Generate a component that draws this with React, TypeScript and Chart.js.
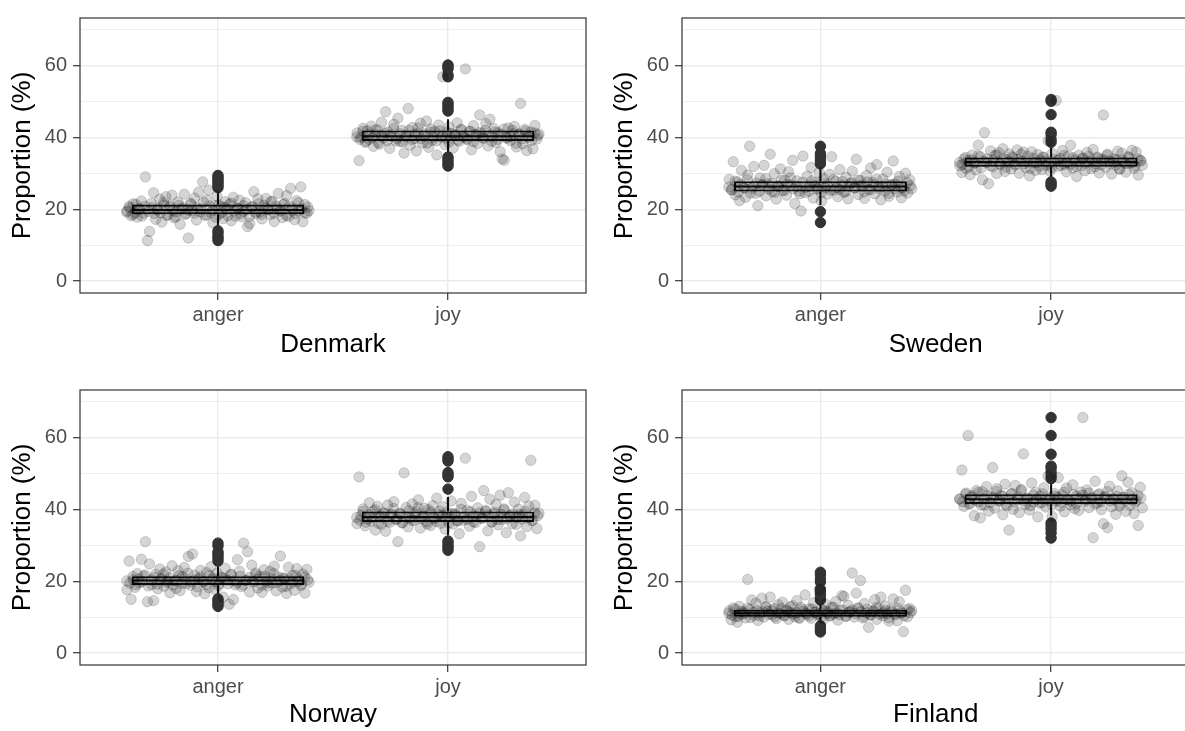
import React, { useEffect, useRef } from 'react';
import { Chart, registerables } from 'chart.js';

Chart.register(...registerables);

// ---------------- data ----------------
const countries = ['Denmark', 'Sweden', 'Norway', 'Finland'];
const emotions = ['anger', 'joy'];
const yMajorTicks = [0, 20, 40, 60];
const yMinorTicks = [10, 30, 50, 70];
const yAxisTitle = 'Proportion (%)';

// box statistics per country: [anger, joy]
const q1Values = [[18.6, 38.9], [24.9, 31.8], [18.9, 36.4], [10.1, 41.4]];
const medianValues = [[19.8, 40.3], [26.3, 33.1], [20.2, 37.8], [11.1, 42.8]];
const q3Values = [[21.3, 41.9], [27.8, 34.4], [21.4, 39.4], [12.1, 44.2]];
const whiskerLow = [[15.3, 35.8], [21.2, 28.8], [16.5, 32.8], [8.0, 38.3]];
const whiskerHigh = [[24.8, 45.0], [31.5, 37.4], [24.2, 43.4], [14.0, 47.4]];

// outliers per country: [anger, joy]
const outliersDenmark = [
  [11.3, 11.9, 12.5, 13.4, 14.0, 26.0, 26.6, 27.2, 27.8, 28.3, 28.9, 29.4],
  [32.0, 32.6, 33.2, 33.9, 34.5, 47.3, 47.9, 48.5, 49.1, 49.7, 56.8, 57.4, 59.0, 59.6, 60.1],
];
const outliersSweden = [
  [16.3, 19.3, 32.6, 33.3, 34.0, 34.8, 35.5, 37.5],
  [26.4, 27.0, 27.6, 38.6, 39.4, 40.8, 41.4, 46.3, 50.0, 50.5],
];
const outliersNorway = [
  [13.0, 13.5, 14.0, 14.6, 15.1, 25.6, 26.3, 27.0, 27.6, 28.2, 29.8, 30.6],
  [28.6, 29.2, 29.8, 30.5, 31.2, 45.6, 49.0, 49.6, 50.2, 53.4, 54.0, 54.6],
];
const outliersFinland = [
  [5.9, 6.4, 7.0, 7.6, 14.8, 15.5, 16.3, 17.0, 17.8, 19.8, 20.6, 21.8, 22.5],
  [32.0, 33.4, 34.5, 35.4, 36.2, 48.5, 49.3, 50.3, 51.4, 52.0, 55.3, 60.5, 65.5],
];

// individual observations (read left to right across each jitter band)
const denmarkAnger = [
  19.5, 20.8, 18.2, 21.5, 19.0, 17.8, 20.2, 22.3, 18.9, 29.0,
  11.3, 13.8, 20.5, 24.6, 17.2, 19.8, 22.8, 16.4, 21.2, 23.5,
  18.4, 20.9, 23.9, 17.6, 19.3, 22.0, 15.8, 20.4, 24.2, 18.8,
  12.0, 21.7, 19.6, 23.1, 17.0, 24.8, 20.1, 27.6, 18.3, 22.6,
  25.3, 19.1, 16.2, 21.0, 23.6, 18.6, 20.7, 17.4, 22.1, 19.9,
  21.4, 16.8, 23.3, 18.1, 20.3, 22.5, 17.9, 19.4, 21.8, 15.2,
  16.0, 20.6, 24.9, 18.7, 22.9, 19.2, 17.3, 21.1, 23.0, 20.0,
  18.5, 22.2, 16.6, 20.8, 24.4, 19.7, 17.7, 21.6, 23.8, 18.0,
  25.8, 20.3, 17.1, 22.4, 19.5, 26.2, 16.5, 21.3, 18.9, 19.6,
];
const denmarkJoy = [
  41.2, 33.5, 40.0, 42.5, 38.6, 41.8, 39.4, 43.1, 37.5, 40.7,
  42.0, 38.1, 44.2, 39.8, 47.1, 41.5, 36.9, 40.3, 43.6, 39.0,
  45.3, 38.8, 41.9, 35.6, 40.5, 48.0, 37.8, 42.7, 39.6, 36.2,
  41.0, 43.9, 38.4, 40.9, 44.5, 37.2, 42.3, 39.2, 41.6, 35.1,
  43.4, 40.1, 56.8, 38.0, 41.4, 42.9, 39.9, 37.0, 40.6, 44.0,
  38.9, 42.1, 40.4, 59.0, 39.3, 41.7, 36.5, 43.2, 40.8, 38.3,
  46.2, 41.1, 39.7, 43.8, 37.6, 45.0, 40.2, 42.4, 38.5, 41.3,
  36.0, 34.0, 33.6, 40.0, 42.6, 39.1, 41.9, 43.0, 37.3, 40.7,
  49.4, 38.2, 42.2, 36.3, 40.4, 41.5, 36.8, 43.3, 39.5, 40.9,
];
const swedenAnger = [
  28.3, 25.4, 33.2, 24.0, 27.6, 22.4, 30.8, 26.1, 23.3, 29.5,
  37.5, 25.8, 31.9, 24.4, 21.0, 28.7, 26.9, 32.2, 23.7, 27.1,
  35.3, 24.9, 29.9, 22.8, 26.5, 31.2, 25.2, 28.1, 23.9, 30.4,
  26.7, 33.6, 21.6, 27.9, 25.0, 19.5, 34.8, 24.6, 29.2, 26.3,
  31.6, 23.1, 27.4, 25.6, 30.1, 22.2, 28.5, 26.0, 24.2, 29.7,
  34.6, 25.3, 27.8, 23.5, 31.0, 26.6, 24.7, 28.9, 22.9, 27.2,
  30.6, 25.9, 33.9, 24.1, 28.0, 26.4, 23.0, 29.4, 25.5, 31.5,
  27.5, 24.3, 32.4, 26.2, 22.6, 28.4, 25.1, 30.3, 23.6, 26.8,
  33.4, 27.0, 24.8, 29.1, 23.2, 26.0, 30.0, 24.5, 28.2, 25.7,
];
const swedenJoy = [
  32.1, 30.2, 34.0, 31.4, 33.5, 29.6, 35.1, 32.8, 30.9, 37.8,
  34.6, 28.2, 41.3, 33.0, 27.1, 36.2, 31.8, 34.9, 29.9, 35.7,
  32.4, 36.8, 30.5, 33.8, 35.4, 31.2, 34.3, 32.6, 36.5, 30.0,
  33.3, 35.9, 31.6, 34.7, 29.3, 36.0, 32.9, 30.8, 35.2, 33.7,
  31.0, 34.4, 32.2, 39.0, 30.6, 35.5, 33.1, 50.2, 31.9, 34.1,
  36.3, 32.5, 30.4, 34.8, 37.8, 31.5, 33.6, 29.1, 35.0, 32.0,
  34.2, 30.7, 35.8, 33.2, 31.3, 36.6, 32.7, 34.5, 30.1, 33.9,
  46.2, 31.7, 35.3, 33.4, 29.8, 34.0, 32.3, 36.1, 31.1, 35.6,
  33.0, 30.3, 34.6, 32.8, 36.4, 31.4, 35.9, 29.5, 33.6, 32.2,
];
const norwayAnger = [
  17.6, 25.6, 15.0, 20.4, 18.3, 22.1, 19.6, 26.1, 21.5, 31.0,
  14.3, 24.8, 19.1, 14.6, 21.9, 17.9, 23.4, 20.7, 18.6, 22.6,
  19.9, 16.8, 24.3, 20.1, 18.0, 22.9, 17.4, 21.3, 23.8, 19.4,
  26.9, 18.9, 27.6, 21.7, 17.1, 20.6, 23.0, 19.7, 16.5, 22.4,
  18.2, 24.0, 20.9, 17.7, 22.2, 19.3, 21.1, 15.6, 23.6, 20.3,
  13.6, 21.8, 14.9, 19.0, 26.0, 22.8, 18.5, 30.6, 20.2, 28.2,
  17.0, 24.5, 19.8, 22.3, 18.1, 21.4, 16.9, 23.2, 20.0, 18.7,
  22.7, 19.5, 24.2, 17.3, 21.2, 27.0, 18.4, 20.8, 16.6, 23.9,
  19.2, 21.6, 17.5, 23.5, 20.5, 18.8, 22.0, 16.7, 23.3, 19.7,
];
const norwayJoy = [
  36.0, 49.0, 38.2, 40.1, 35.4, 37.3, 41.8, 36.7, 39.5, 34.2,
  40.8, 37.9, 35.8, 39.0, 33.9, 41.2, 36.4, 38.6, 42.1, 37.1,
  31.0, 38.9, 36.2, 50.1, 40.5, 35.1, 37.6, 41.5, 36.9, 39.3,
  42.6, 34.8, 38.0, 40.3, 36.5, 39.9, 35.5, 41.0, 37.4, 43.1,
  38.4, 36.1, 40.7, 34.5, 39.2, 37.8, 42.3, 35.9, 38.8, 36.8,
  33.2, 41.6, 37.0, 54.2, 39.7, 35.3, 43.6, 38.1, 36.3, 40.4,
  29.6, 37.5, 45.2, 39.4, 34.0, 42.8, 36.6, 38.7, 41.4, 35.7,
  43.9, 37.2, 39.8, 33.5, 44.6, 38.3, 36.0, 42.0, 37.7, 40.0,
  32.6, 38.5, 43.3, 35.2, 40.9, 53.6, 37.0, 41.1, 34.6, 38.9,
];
const finlandAnger = [
  11.8, 9.3, 12.6, 10.2, 8.6, 13.0, 10.9, 11.5, 9.8, 20.5,
  12.1, 14.8, 10.5, 13.9, 9.1, 11.2, 15.3, 10.0, 12.9, 11.7,
  15.6, 10.7, 12.4, 9.6, 13.5, 11.0, 14.2, 10.4, 12.0, 9.4,
  11.3, 13.2, 10.1, 14.6, 9.9, 12.7, 11.6, 16.2, 10.8, 12.3,
  9.7, 14.0, 11.4, 10.6, 17.7, 12.2, 9.5, 13.6, 11.1, 10.3,
  12.8, 10.9, 14.4, 9.2, 11.9, 16.0, 15.8, 10.2, 13.3, 11.5,
  22.3, 10.0, 16.7, 12.5, 20.2, 9.8, 13.8, 11.2, 7.2, 10.6,
  11.7, 14.9, 9.4, 12.6, 15.6, 10.4, 13.1, 11.0, 8.9, 12.2,
  15.1, 10.7, 9.0, 14.3, 11.4, 6.0, 17.5, 10.1, 12.4, 11.8,
];
const finlandJoy = [
  42.9, 50.9, 40.8, 44.5, 60.5, 41.6, 43.8, 38.2, 45.2, 42.1,
  37.6, 44.9, 41.2, 46.3, 39.5, 43.4, 51.6, 40.3, 45.7, 42.5,
  43.9, 38.5, 47.0, 41.0, 34.2, 44.2, 40.0, 46.6, 42.7, 39.1,
  45.5, 55.4, 41.4, 43.1, 39.8, 47.3, 42.0, 44.7, 37.9, 43.6,
  41.8, 46.0, 40.6, 49.2, 43.3, 38.0, 44.4, 42.3, 48.8, 40.9,
  44.0, 39.3, 45.9, 42.6, 41.3, 46.8, 40.2, 43.7, 39.7, 44.8,
  65.5, 42.2, 45.4, 40.5, 43.0, 32.1, 47.8, 41.7, 44.3, 39.9,
  36.0, 43.5, 34.9, 46.4, 40.7, 42.8, 38.6, 45.1, 41.5, 49.3,
  43.2, 39.4, 47.5, 41.1, 44.6, 38.8, 42.4, 35.5, 46.1, 40.4,
];

// dense core of observations close to the median (left to right)
const denmarkAngerCore = [
  19.2, 20.4, 18.5, 21.3, 19.9, 18.1, 20.8, 19.4, 21.6, 18.8,
  20.1, 19.0, 21.9, 18.3, 20.6, 19.6, 17.9, 21.1, 20.0, 18.6,
  19.8, 21.4, 18.9, 20.3, 19.3, 22.0, 18.4, 20.9, 19.7, 17.8,
  21.2, 19.1, 20.5, 18.2, 21.7, 19.5, 20.2, 18.7, 21.0, 19.9,
  18.0, 20.7, 19.2, 21.5, 18.6, 20.4, 19.8, 22.1, 18.9, 20.0,
  19.4, 21.3, 18.3, 20.8, 19.6, 18.8, 21.8, 20.1, 19.0, 20.6,
];
const denmarkJoyCore = [
  40.1, 39.4, 41.7, 38.9, 40.8, 39.9, 42.1, 38.5, 40.4, 41.2,
  39.1, 40.6, 42.4, 39.7, 41.0, 38.7, 40.2, 41.9, 39.3, 40.9,
  42.6, 39.6, 40.3, 38.4, 41.4, 40.0, 39.0, 41.8, 40.5, 39.8,
  38.6, 41.1, 40.7, 39.2, 42.2, 40.1, 39.5, 41.6, 38.8, 40.4,
  41.3, 39.9, 42.0, 40.6, 38.9, 41.5, 39.4, 40.8, 42.3, 39.7,
  40.2, 41.0, 38.3, 40.9, 39.6, 41.7, 40.0, 39.1, 41.2, 40.5,
];
const swedenAngerCore = [
  26.2, 25.4, 27.8, 24.8, 26.9, 25.9, 28.2, 24.5, 26.5, 27.3,
  25.0, 26.7, 28.5, 25.6, 27.1, 24.7, 26.3, 28.0, 25.2, 26.9,
  28.7, 25.7, 26.4, 24.3, 27.5, 26.1, 25.0, 27.9, 26.6, 25.8,
  24.6, 27.2, 26.8, 25.3, 28.3, 26.0, 25.5, 27.7, 24.9, 26.4,
  27.4, 25.9, 28.1, 26.7, 24.8, 27.6, 25.4, 26.9, 28.4, 25.6,
  26.3, 27.0, 24.4, 26.8, 25.7, 27.8, 26.1, 25.1, 27.3, 26.5,
];
const swedenJoyCore = [
  33.0, 32.4, 34.4, 31.8, 33.7, 32.9, 34.8, 31.5, 33.3, 34.0,
  32.1, 33.5, 35.1, 32.6, 33.9, 31.7, 33.1, 34.6, 32.3, 33.8,
  35.3, 32.7, 33.2, 31.4, 34.2, 33.0, 32.0, 34.5, 33.4, 32.8,
  31.6, 33.9, 33.6, 32.2, 35.0, 32.9, 32.5, 34.3, 31.9, 33.2,
  34.1, 32.8, 34.7, 33.5, 31.8, 34.2, 32.4, 33.7, 35.0, 32.6,
  33.1, 33.8, 31.3, 33.6, 32.7, 34.4, 33.0, 32.1, 34.0, 33.4,
];
const norwayAngerCore = [
  20.1, 19.5, 21.3, 19.0, 20.6, 19.9, 21.7, 18.7, 20.3, 21.0,
  19.2, 20.5, 22.0, 19.7, 20.9, 18.9, 20.2, 21.5, 19.4, 20.8,
  22.2, 19.8, 20.3, 18.5, 21.2, 20.0, 19.1, 21.6, 20.4, 19.9,
  18.8, 20.9, 20.7, 19.3, 21.9, 20.1, 19.6, 21.4, 19.0, 20.3,
  21.1, 19.9, 21.8, 20.6, 18.9, 21.3, 19.5, 20.8, 22.1, 19.7,
  20.2, 20.9, 18.6, 20.7, 19.8, 21.6, 20.0, 19.2, 21.2, 20.4,
];
const norwayJoyCore = [
  37.7, 37.0, 39.4, 36.4, 38.5, 37.6, 39.9, 36.1, 38.1, 38.9,
  36.7, 38.3, 40.2, 37.3, 38.7, 36.3, 37.9, 39.6, 36.9, 38.6,
  40.4, 37.4, 38.0, 35.9, 39.2, 37.7, 36.6, 39.5, 38.2, 37.5,
  36.2, 38.8, 38.4, 36.8, 40.0, 37.8, 37.2, 39.3, 36.5, 38.0,
  39.0, 37.6, 39.7, 38.3, 36.4, 39.1, 37.1, 38.6, 40.1, 37.4,
  37.9, 38.7, 35.8, 38.5, 37.3, 39.4, 37.7, 36.8, 39.0, 38.2,
];
const finlandAngerCore = [
  11.1, 10.6, 12.2, 10.2, 11.6, 11.0, 12.5, 9.9, 11.3, 11.9,
  10.4, 11.5, 12.8, 10.8, 11.8, 10.1, 11.2, 12.4, 10.5, 11.7,
  12.9, 10.9, 11.3, 9.7, 12.1, 11.1, 10.3, 12.3, 11.4, 10.9,
  10.0, 11.8, 11.6, 10.5, 12.7, 11.2, 10.7, 12.0, 10.3, 11.4,
  12.0, 11.0, 12.6, 11.5, 10.1, 12.2, 10.6, 11.7, 12.8, 10.8,
  11.2, 11.8, 9.8, 11.6, 10.9, 12.4, 11.1, 10.4, 12.1, 11.3,
];
const finlandJoyCore = [
  42.8, 42.1, 44.2, 41.5, 43.4, 42.6, 44.7, 41.2, 43.0, 43.8,
  41.8, 43.2, 45.0, 42.3, 43.6, 41.4, 42.9, 44.4, 42.0, 43.5,
  45.2, 42.4, 43.0, 41.0, 44.0, 42.8, 41.7, 44.3, 43.1, 42.5,
  41.3, 43.7, 43.3, 41.9, 44.8, 42.7, 42.2, 44.1, 41.6, 43.0,
  43.9, 42.6, 44.5, 43.2, 41.5, 44.0, 42.1, 43.4, 44.9, 42.3,
  42.9, 43.6, 40.9, 43.3, 42.4, 44.2, 42.8, 41.8, 43.8, 43.1,
];

const outlierSets = [outliersDenmark, outliersSweden, outliersNorway, outliersFinland];
const pointSets = [
  [denmarkAnger, denmarkJoy],
  [swedenAnger, swedenJoy],
  [norwayAnger, norwayJoy],
  [finlandAnger, finlandJoy],
];
const coreSets = [
  [denmarkAngerCore, denmarkJoyCore],
  [swedenAngerCore, swedenJoyCore],
  [norwayAngerCore, norwayJoyCore],
  [finlandAngerCore, finlandJoyCore],
];

// ---------------- layout / style ----------------
const FONT = "'Liberation Sans', Arial, Helvetica, sans-serif";
const CANVAS_W = 600;
const CANVAS_H = 372;
const Y_MIN = -3.29;
const Y_MAX = 73.15;
const BOX_WIDTH = 0.75;
const JITTER_HALF = 0.4;
const POINT_FILL = 'rgba(0,0,0,0.165)';
const BOX_LINE = '#141414';
const BOX_LW = 2.1;

const panelLayout = [
  { left: 0, top: 0, padRight: 14, titlePad: 11.4 },
  { left: 602, top: 0, padRight: 12.5, titlePad: 11.4 },
  { left: 0, top: 372, padRight: 14, titlePad: 13.4 },
  { left: 602, top: 372, padRight: 12.5, titlePad: 13.4 },
];

const panelBorder = {
  id: 'panelBorder',
  afterDatasetsDraw(chart: any) {
    const { ctx, chartArea } = chart;
    ctx.save();
    ctx.strokeStyle = '#333333';
    ctx.lineWidth = 1.2;
    ctx.strokeRect(chartArea.left, chartArea.top, chartArea.right - chartArea.left, chartArea.bottom - chartArea.top);
    ctx.restore();
  },
};

function jitterDataset(values: number[], cx: number, shift: number) {
  const n = values.length;
  return {
    type: 'scatter',
    data: values.map((v, i) => ({ x: cx - JITTER_HALF + (2 * JITTER_HALF * (i + shift)) / n, y: v })),
    backgroundColor: POINT_FILL,
    borderColor: POINT_FILL,
    borderWidth: 1,
    pointRadius: 5.2,
    pointHoverRadius: 5.2,
    order: 0,
  };
}

function lineDataset(points: { x: number; y: number }[], order: number) {
  return {
    type: 'line',
    data: points,
    borderColor: BOX_LINE,
    borderWidth: BOX_LW,
    pointRadius: 0,
    fill: false,
    order,
  };
}

function Panel({ idx }: { idx: number }) {
  const ref = useRef<HTMLCanvasElement | null>(null);

  useEffect(() => {
    if (!ref.current) return;
    const lay = panelLayout[idx];
    const datasets: any[] = [];

    emotions.forEach((_, e) => {
      const cx = e + 1;
      datasets.push(jitterDataset(pointSets[idx][e], cx, 0.5));
      datasets.push(jitterDataset(coreSets[idx][e], cx, 0.25));
      datasets.push({
        type: 'scatter',
        data: outlierSets[idx][e].map((v) => ({ x: cx, y: v })),
        backgroundColor: '#333333',
        borderColor: '#333333',
        borderWidth: 1,
        pointRadius: 5.2,
        pointHoverRadius: 5.2,
        order: 1,
      });
      datasets.push(
        lineDataset(
          [
            { x: cx - BOX_WIDTH / 2, y: medianValues[idx][e] },
            { x: cx + BOX_WIDTH / 2, y: medianValues[idx][e] },
          ],
          2,
        ),
      );
      datasets.push(
        lineDataset(
          [
            { x: cx, y: q3Values[idx][e] },
            { x: cx, y: whiskerHigh[idx][e] },
          ],
          3,
        ),
      );
      datasets.push(
        lineDataset(
          [
            { x: cx, y: whiskerLow[idx][e] },
            { x: cx, y: q1Values[idx][e] },
          ],
          3,
        ),
      );
    });

    datasets.push({
      type: 'bar',
      data: emotions.map((_, e) => ({ x: e + 1, y: [q1Values[idx][e], q3Values[idx][e]] })),
      backgroundColor: '#ffffff',
      borderColor: BOX_LINE,
      borderWidth: BOX_LW,
      borderSkipped: false,
      categoryPercentage: BOX_WIDTH,
      barPercentage: 1,
      order: 4,
    });

    const chart = new Chart(ref.current, {
      type: 'bar',
      data: { datasets },
      plugins: [panelBorder],
      options: {
        responsive: false,
        animation: false,
        devicePixelRatio: 1,
        events: [],
        layout: { padding: { top: 14, right: lay.padRight, bottom: 0, left: 0 } },
        plugins: { legend: { display: false }, tooltip: { enabled: false } },
        scales: {
          x: {
            type: 'linear',
            min: 0.4,
            max: 2.6,
            offset: false,
            afterBuildTicks: (s: any) => {
              s.ticks = emotions.map((_, e) => ({ value: e + 1 }));
            },
            afterFit: (s: any) => {
              s.height = CANVAS_H - 293;
            },
            ticks: {
              autoSkip: false,
              maxRotation: 0,
              padding: 3,
              color: '#4D4D4D',
              font: { family: FONT, size: 20 },
              callback: (v: any) => emotions[Math.round(v) - 1] ?? '',
            },
            grid: {
              offset: false,
              color: '#EBEBEB',
              lineWidth: 1.4,
              tickColor: '#333333',
              tickWidth: 1.2,
              tickLength: 7,
              drawTicks: true,
            },
            border: { display: false },
            title: {
              display: true,
              text: countries[idx],
              color: '#000000',
              font: { family: FONT, size: 26 },
              padding: { top: 0, bottom: lay.titlePad },
            },
          },
          y: {
            type: 'linear',
            min: Y_MIN,
            max: Y_MAX,
            afterBuildTicks: (s: any) => {
              s.ticks = [...yMajorTicks, ...yMinorTicks].sort((a, b) => a - b).map((v) => ({ value: v }));
            },
            afterFit: (s: any) => {
              s.width = 80;
            },
            ticks: {
              autoSkip: false,
              padding: 6,
              color: '#4D4D4D',
              font: { family: FONT, size: 20 },
              callback: (v: any) => (yMajorTicks.includes(v) ? String(v) : ''),
            },
            grid: {
              color: '#EBEBEB',
              lineWidth: (c: any) => (c.tick && yMajorTicks.includes(c.tick.value) ? 1.4 : 0.8),
              tickColor: (c: any) => (c.tick && yMajorTicks.includes(c.tick.value) ? '#333333' : 'rgba(0,0,0,0)'),
              tickWidth: 1.2,
              tickLength: 7,
              drawTicks: true,
            },
            border: { display: false },
            title: {
              display: true,
              text: yAxisTitle,
              color: '#000000',
              font: { family: FONT, size: 26 },
              padding: { top: 7.4, bottom: 0 },
            },
          },
        },
      } as any,
    });
    return () => chart.destroy();
  }, [idx]);

  const lay = panelLayout[idx];
  return (
    <div style={{ position: 'absolute', left: lay.left, top: lay.top, width: CANVAS_W, height: CANVAS_H }}>
      <canvas ref={ref} width={CANVAS_W} height={CANVAS_H} style={{ display: 'block' }} />
    </div>
  );
}

export default function App() {
  return (
    <div
      style={{
        position: 'absolute',
        left: 0,
        top: 0,
        width: 1185,
        height: 731,
        overflow: 'hidden',
        background: '#ffffff',
      }}
    >
      {countries.map((_, i) => (
        <Panel key={i} idx={i} />
      ))}
    </div>
  );
}
